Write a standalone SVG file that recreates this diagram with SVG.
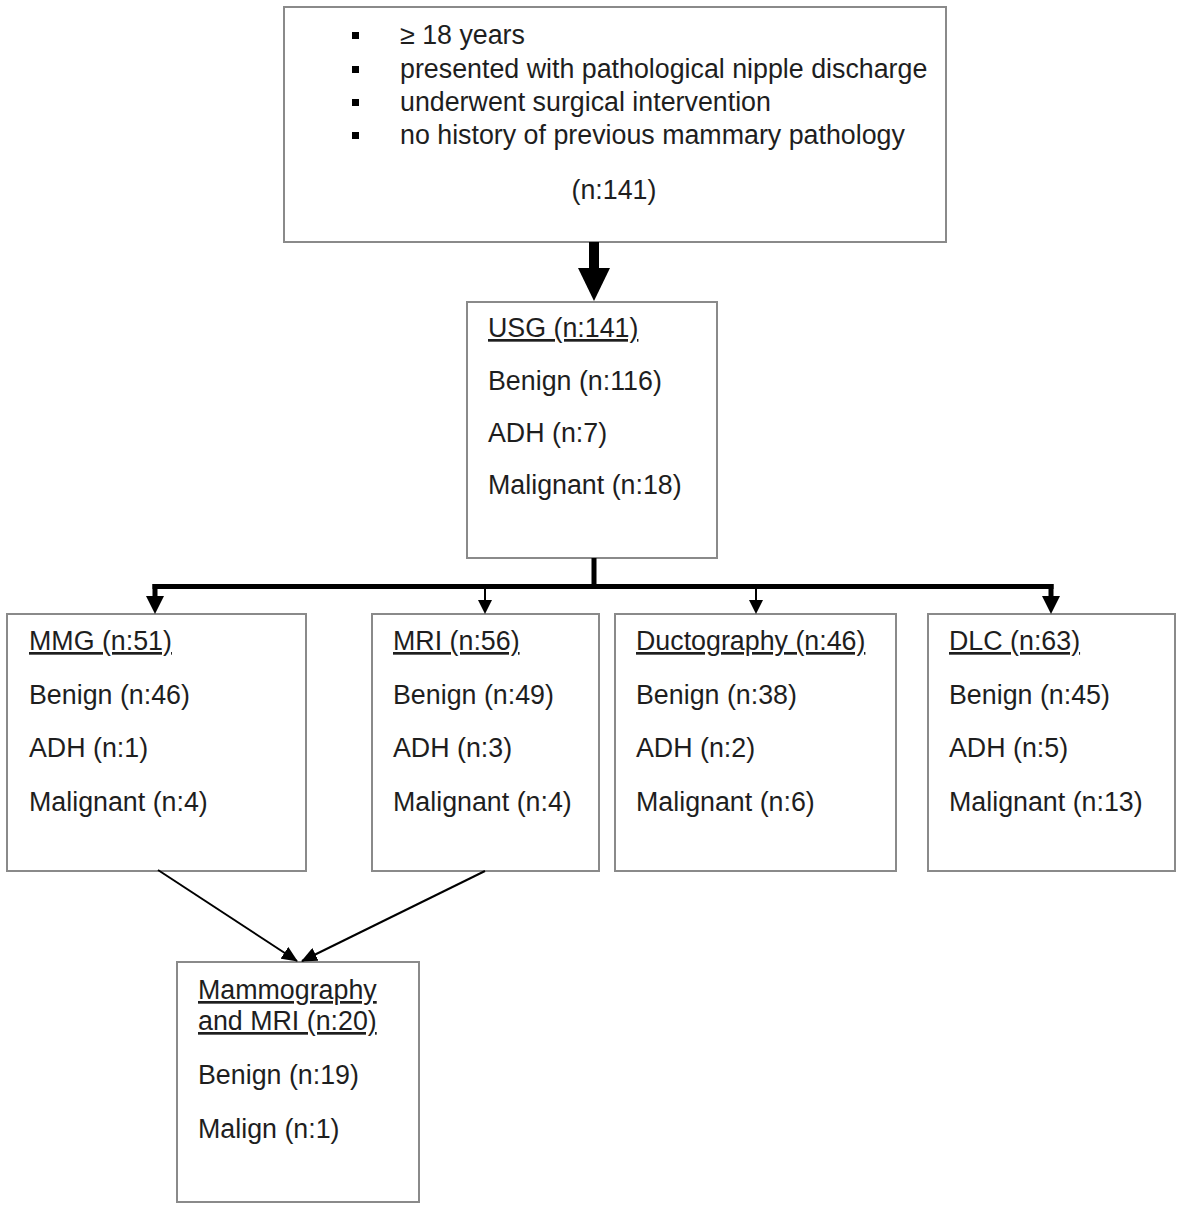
<svg xmlns="http://www.w3.org/2000/svg" width="1183" height="1207" viewBox="0 0 1183 1207">
<style>
.box{fill:#fff;stroke:#8a8a8a;stroke-width:2}
text{font-family:"Liberation Sans",Arial,sans-serif;font-size:26.8px;fill:#1e1e1e}
.t{text-decoration:underline}
</style>
<defs>
<marker id="ah" markerWidth="16" markerHeight="14" refX="15" refY="7" orient="auto" markerUnits="userSpaceOnUse" viewBox="0 0 16 14"><path d="M0,0 L16,7 L0,14 z" fill="#000"/></marker>
</defs>
<rect width="1183" height="1207" fill="#fff"/>
<g id="criteria">
<rect class="box" x="284" y="7" width="662" height="235"/>
<rect x="352" y="32" width="7" height="7" fill="#000"/>
<rect x="352" y="66" width="7" height="7" fill="#000"/>
<rect x="352" y="99" width="7" height="7" fill="#000"/>
<rect x="352" y="132" width="7" height="7" fill="#000"/>
<text x="400" y="44">≥ 18 years</text>
<text x="400" y="78">presented with pathological nipple discharge</text>
<text x="400" y="111">underwent surgical intervention</text>
<text x="400" y="144">no history of previous mammary pathology</text>
<text x="614" y="199" text-anchor="middle">(n:141)</text>
</g>
<g id="usg">
<rect class="box" x="467" y="302" width="250" height="256"/>
<text class="t" x="488" y="337">USG (n:141)</text>
<text x="488" y="390">Benign (n:116)</text>
<text x="488" y="442">ADH (n:7)</text>
<text x="488" y="494">Malignant (n:18)</text>
</g>
<g id="mmg">
<rect class="box" x="7" y="614" width="299" height="257"/>
<text class="t" x="29" y="650">MMG (n:51)</text>
<text x="29" y="704">Benign (n:46)</text>
<text x="29" y="757">ADH (n:1)</text>
<text x="29" y="811">Malignant (n:4)</text>
</g>
<g id="mri">
<rect class="box" x="372" y="614" width="227" height="257"/>
<text class="t" x="393" y="650">MRI (n:56)</text>
<text x="393" y="704">Benign (n:49)</text>
<text x="393" y="757">ADH (n:3)</text>
<text x="393" y="811">Malignant (n:4)</text>
</g>
<g id="ductography">
<rect class="box" x="615" y="614" width="281" height="257"/>
<text class="t" x="636" y="650">Ductography (n:46)</text>
<text x="636" y="704">Benign (n:38)</text>
<text x="636" y="757">ADH (n:2)</text>
<text x="636" y="811">Malignant (n:6)</text>
</g>
<g id="dlc">
<rect class="box" x="928" y="614" width="247" height="257"/>
<text class="t" x="949" y="650">DLC (n:63)</text>
<text x="949" y="704">Benign (n:45)</text>
<text x="949" y="757">ADH (n:5)</text>
<text x="949" y="811">Malignant (n:13)</text>
</g>
<g id="mmg_mri">
<rect class="box" x="177" y="962" width="242" height="240"/>
<text class="t" x="198" y="999">Mammography</text>
<text class="t" x="198" y="1030">and MRI (n:20)</text>
<text x="198" y="1084">Benign (n:19)</text>
<text x="198" y="1138">Malign (n:1)</text>
</g>
<g id="connectors">
<rect x="589" y="242" width="10" height="28" fill="#000"/>
<polygon points="578,268 610,268 594,301" fill="#000"/>
<rect x="591.5" y="558" width="5" height="31" fill="#000"/>
<rect x="152.5" y="584" width="901" height="5" fill="#000"/>
<rect x="152.5" y="584" width="5" height="14" fill="#000"/>
<polygon points="146,596 164,596 155,614" fill="#000"/>
<rect x="1048.5" y="584" width="5" height="14" fill="#000"/>
<polygon points="1042,596 1060,596 1051,614" fill="#000"/>
<line x1="485" y1="586" x2="485" y2="602" stroke="#000" stroke-width="2"/>
<polygon points="478,600 492,600 485,614" fill="#000"/>
<line x1="756" y1="586" x2="756" y2="602" stroke="#000" stroke-width="2"/>
<polygon points="749,600 763,600 756,614" fill="#000"/>
<line x1="158" y1="870" x2="297" y2="961" stroke="#000" stroke-width="2" marker-end="url(#ah)"/>
<line x1="485" y1="871" x2="302" y2="961" stroke="#000" stroke-width="2" marker-end="url(#ah)"/>
</g>
</svg>
